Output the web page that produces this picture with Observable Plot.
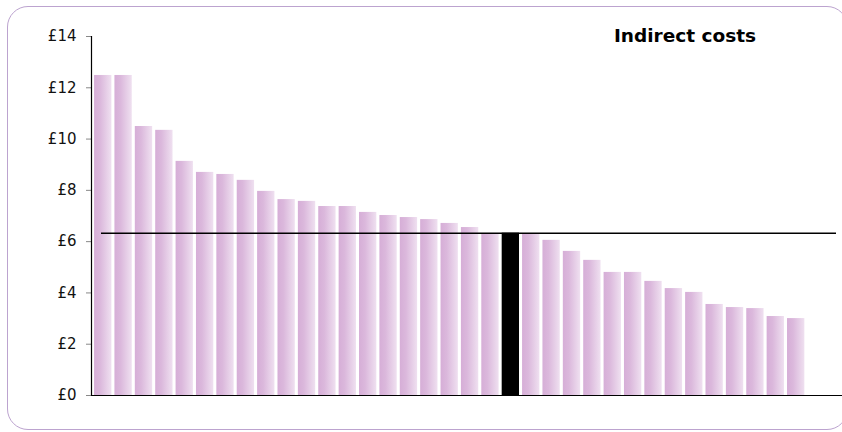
<!DOCTYPE html>
<html>
<head>
<meta charset="utf-8">
<script src="https://cdn.jsdelivr.net/npm/d3@7"></script>
<script src="https://cdn.jsdelivr.net/npm/@observablehq/plot@0.6"></script>
<style>
  html, body { margin: 0; padding: 0; background: #fff; overflow: hidden; }
  #wrap { position: relative; width: 842px; height: 432px; overflow: hidden; }
  #border { position: absolute; left: 7px; top: 6px; width: 841px; height: 424px;
    border: 1.4px solid #bca3cf; border-radius: 21px; box-sizing: border-box; pointer-events: none; }
</style>
</head>
<body>
<div id="wrap"><div id="border"></div></div>
<script>
// Data (pounds)
const categories = Array.from({length: 35}, (_, i) => `Unit ${i + 1}`);
const values = [12.48, 12.48, 10.49, 10.34, 9.13, 8.70, 8.62, 8.39, 7.96, 7.64,
                7.57, 7.37, 7.37, 7.14, 7.02, 6.94, 6.86, 6.71, 6.55, 6.32,
                6.33, 6.30, 6.05, 5.62, 5.27, 4.80, 4.80, 4.45, 4.17, 4.02,
                3.55, 3.43, 3.39, 3.08, 3.00];
const highlightCategory = "Unit 21";
const averageValue = 6.33;
const yTicks = [0, 2, 4, 6, 8, 10, 12, 14];
const titleText = "Indirect costs";

const data = categories.map((c, i) => ({category: c, value: values[i], highlight: c === highlightCategory}));

const gradientDefs = () => {
  const ns = "http://www.w3.org/2000/svg";
  const defs = document.createElementNS(ns, "defs");
  const g = document.createElementNS(ns, "linearGradient");
  g.setAttribute("id", "barGrad");
  g.setAttribute("x1", "0"); g.setAttribute("x2", "1");
  g.setAttribute("y1", "0"); g.setAttribute("y2", "0");
  [["0%", "#d6aed7"], ["35%", "#dbb8dc"], ["100%", "#efe0f0"]].forEach(([o, c]) => {
    const s = document.createElementNS(ns, "stop");
    s.setAttribute("offset", o); s.setAttribute("stop-color", c);
    g.appendChild(s);
  });
  defs.appendChild(g);
  return defs;
};

const chart = Plot.plot({
  width: 842,
  height: 432,
  marginLeft: 91,
  marginRight: 0,
  marginTop: 36,
  marginBottom: 37,
  style: {fontFamily: "Verdana, 'DejaVu Sans', sans-serif", fontSize: "15px", background: "transparent", color: "#111"},
  x: {domain: categories, range: [91, 807.4], paddingInner: 0.15, paddingOuter: 0.15, round: false, axis: null},
  y: {domain: [0, 14], ticks: yTicks, tickFormat: d => "£" + d, label: null},
  marks: [
    gradientDefs,
    Plot.barY(data.filter(d => !d.highlight), {x: "category", y: "value", fill: "url(#barGrad)"}),
    Plot.barY(data.filter(d => d.highlight), {x: "category", y: "value", fill: "#000"}),
    Plot.ruleY([averageValue], {stroke: "#000", strokeWidth: 1.6, insetLeft: 10, insetRight: 6}),
    Plot.axisY({ticks: yTicks, tickFormat: d => "£" + d, tickSize: 5, tickPadding: 10, stroke: "#888", fill: "#111", fontSize: 15, label: null}),
    Plot.frame({anchor: "left", stroke: "#000", strokeWidth: 1.2}),
    Plot.ruleY([0], {stroke: "#000", strokeWidth: 1.2}),
    Plot.text([titleText], {frameAnchor: "top", dx: 218, dy: 0, text: d => d, fontWeight: "bold", fontSize: 18.5, fill: "#000", lineAnchor: "middle"})
  ]
});
document.getElementById("wrap").prepend(chart);
</script>
</body>
</html>
